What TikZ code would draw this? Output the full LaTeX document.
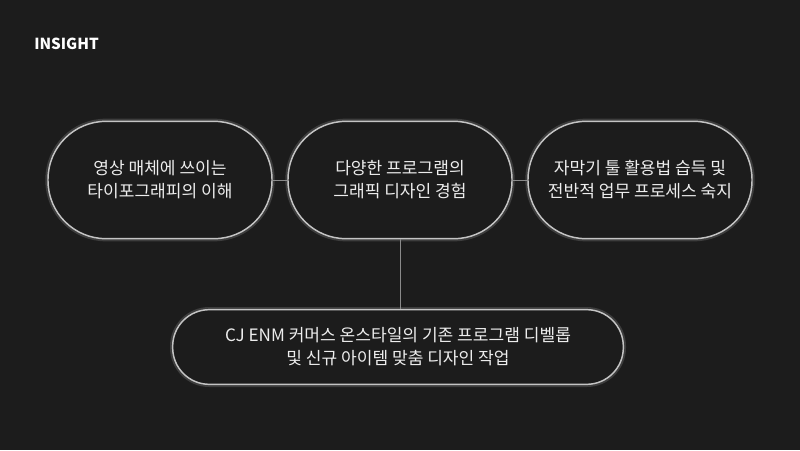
\documentclass[tikz,border=0pt]{standalone}
\usepackage{fontspec}
\setmainfont{Noto Sans CJK KR}
\usepackage{tikz}
\usetikzlibrary{positioning}
\definecolor{bgdark}{HTML}{1C1C1C}
\definecolor{boxline}{HTML}{C4C4C4}
\definecolor{linkgray}{HTML}{8A8A8A}
\definecolor{softwhite}{HTML}{EDEDED}

\begin{document}
\begin{tikzpicture}[x=0.75pt,y=-0.75pt]
                    \tikzstyle{every node}+=[inner sep=0pt, text=softwhite, font=\fontsize{12.8}{17.3}\selectfont]
                    \tikzstyle{pill}=[draw=boxline, line width=1.1pt, fill=bgdark, align=center,
                        minimum width=168pt, minimum height=88pt, rounded corners=43.5pt,
                        preaction={draw=white, draw opacity=0.15, line width=4pt}]
                    \tikzstyle{widepill}=[pill, minimum width=338pt, minimum height=56pt, rounded corners=27.5pt]
                    \tikzstyle{link}=[draw=linkgray, line width=0.6pt]
                    \fill [bgdark] (0,0) rectangle (800,450);
                    \useasboundingbox (0,0) rectangle (800,450);
                    \node [anchor=west, text=white, font=\bfseries\fontsize{11.4}{13}\selectfont] (title) at (34,44) {INSIGHT};
                    \node [pill] (typo) at (160,180) {영상 매체에 쓰이는\\타이포그래피의 이해};
                    \node [pill] (graphic) at (400,180) {다양한 프로그램의\\그래픽 디자인 경험};
                    \node [pill] (caption) at (640,180) {자막기 툴 활용법 습득 및\\전반적 업무 프로세스 숙지};
                    \node [widepill] (develop) at (398,347) {CJ ENM 커머스 온스타일의 기존 프로그램 디벨롭\\및 신규 아이템 맞춤 디자인 작업};
                    \draw [link] (typo.east) -- (graphic.west);
                    \draw [link] (graphic.east) -- (caption.west);
                    \draw [link] (graphic.south) -- (graphic.south |- develop.north);
                \end{tikzpicture}
\end{document}
